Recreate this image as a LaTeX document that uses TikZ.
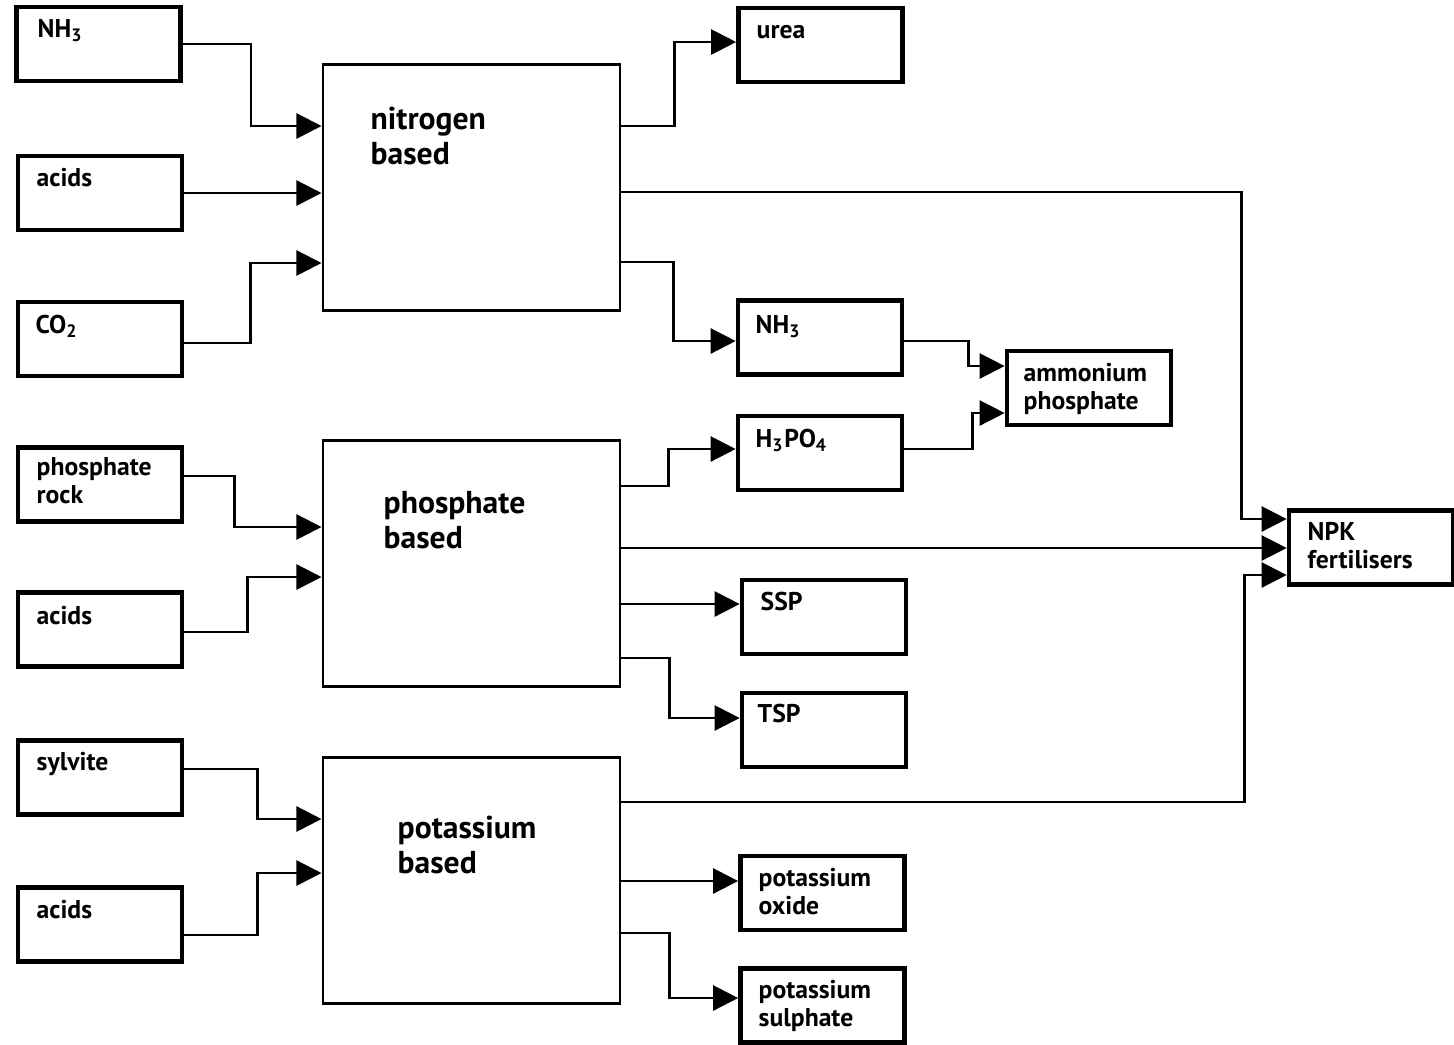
\documentclass[tikz,border=0pt]{standalone}
\usepackage{fontspec}
\setmainfont{PT Sans}
\usetikzlibrary{arrows.meta}
\begin{document}
\begin{tikzpicture}[x=0.01cm, y=-0.01cm,
  inbox/.style={draw, line width=1.3pt, minimum width=1.64cm, minimum height=0.74cm, inner sep=0},
  procbox/.style={draw, line width=0.8pt, minimum width=2.97cm, minimum height=2.46cm, inner sep=0},
  lbl/.style={anchor=base west, inner sep=0, align=left, font=\fontsize{7.3}{7.7}\selectfont\bfseries},
  biglbl/.style={anchor=base west, inner sep=0, align=left, font=\fontsize{9}{9.8}\selectfont\bfseries},
  flow/.style={line width=0.7pt, -{Triangle[length=0.25cm, width=0.25cm]}}]
\useasboundingbox (0,0) rectangle (1454,1044);
% raw materials
\node[inbox] (nh3in) at (98.5,44) {};
\node[inbox] (acids1) at (100,193) {};
\node[inbox] (co2) at (100,339) {};
\node[inbox] (phrock) at (100,484.5) {};
\node[inbox] (acids2) at (100,629.5) {};
\node[inbox] (sylv) at (100,777.5) {};
\node[inbox] (acids3) at (100,924.5) {};
\node[lbl] (nh3in-t) at (37,37) {NH\textsubscript{3}};
\node[lbl] (acids1-t) at (36,186) {acids};
\node[lbl] (co2-t) at (35,333) {CO\textsubscript{2}};
\node[lbl] (phrock-t) at (36,503) {phosphate\\rock};
\node[lbl] (acids2-t) at (36,624) {acids};
\node[lbl] (sylv-t) at (36,770) {sylvite};
\node[lbl] (acids3-t) at (36,918) {acids};
% processes
\node[procbox] (nitro) at (471.5,187.5) {};
\node[procbox] (phos) at (471.5,563.5) {};
\node[procbox] (pot) at (471.5,880.5) {};
\node[biglbl] (nitro-t) at (370,164) {nitrogen\\based};
\node[biglbl] (phos-t) at (383,548) {phosphate\\based};
\node[biglbl] (pot-t) at (397,873) {potassium\\based};
% products
\node[inbox] (urea) at (820.5,45) {};
\node[inbox] (nh3out) at (820,337.5) {};
\node[inbox] (h3po4) at (820,453) {};
\node[inbox] (amph) at (1089,388) {};
\node[inbox] (ssp) at (824,617) {};
\node[inbox] (tsp) at (824,730) {};
\node[inbox] (kox) at (822.5,893) {};
\node[inbox] (ksul) at (822.5,1005.5) {};
\node[inbox] (npk) at (1371,547.5) {};
\node[lbl] (urea-t) at (756,38) {urea};
\node[lbl] (nh3out-t) at (755,333) {NH\textsubscript{3}};
\node[lbl] (h3po4-t) at (755,447) {H\textsubscript{3}PO\textsubscript{4}};
\node[lbl] (amph-t) at (1023,409) {ammonium\\phosphate};
\node[lbl] (ssp-t) at (760,610) {SSP};
\node[lbl] (tsp-t) at (757,722) {TSP};
\node[lbl] (kox-t) at (758,914) {potassium\\oxide};
\node[lbl] (ksul-t) at (758,1026) {potassium\\sulphate};
\node[lbl] (npk-t) at (1307,568) {NPK\\fertilisers};
% inputs
\draw[flow] (nh3in.east) -- ++(68,0) |- (nitro.west |- 0,126);
\draw[flow] (acids1.east) -- (acids1.east -| nitro.west);
\draw[flow] (co2.east |- 0,343) -- ++(66,0) |- (nitro.west |- 0,263);
\draw[flow] (phrock.east |- 0,476) -- ++(50,0) |- (phos.west |- 0,527);
\draw[flow] (acids2.east |- 0,632) -- ++(63,0) |- (phos.west |- 0,577);
\draw[flow] (sylv.east |- 0,769) -- ++(73,0) |- (pot.west |- 0,819);
\draw[flow] (acids3.east |- 0,935) -- ++(73,0) |- (pot.west |- 0,873);
% outputs
\draw[flow] (nitro.east |- 0,126) -- ++(53,0) |- (urea.west |- 0,42);
\draw[flow] (nitro.east |- 0,192) -- ++(620,0) |- (npk.west |- 0,519);
\draw[flow] (nitro.east |- 0,262) -- ++(52,0) |- (nh3out.west |- 0,341);
\draw[flow] (nh3out.east |- 0,341) -- ++(64,0) |- (amph.west |- 0,366);
\draw[flow] (h3po4.east |- 0,449) -- ++(68,0) |- (amph.west |- 0,413);
\draw[flow] (phos.east |- 0,486) -- ++(47,0) |- (h3po4.west |- 0,449);
\draw[flow] (phos.east |- 0,548) -- (npk.west |- 0,548);
\draw[flow] (phos.east |- 0,604) -- (ssp.west |- 0,604);
\draw[flow] (phos.east |- 0,658) -- ++(48,0) |- (tsp.west |- 0,718);
\draw[flow] (pot.east |- 0,802) -- ++(623,0) |- (npk.west |- 0,575);
\draw[flow] (pot.east |- 0,881) -- (kox.west |- 0,881);
\draw[flow] (pot.east |- 0,933) -- ++(48,0) |- (ksul.west |- 0,998);
\end{tikzpicture}
\end{document}
